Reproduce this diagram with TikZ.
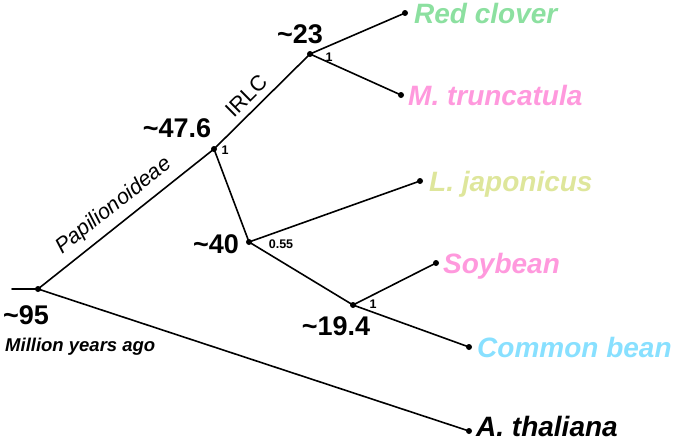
\documentclass[tikz,border=0pt]{standalone}
\usepackage{fontspec}
\setmainfont{Liberation Sans}
\definecolor{cgreen}{RGB}{140,224,160}
\definecolor{cpink}{RGB}{255,153,221}
\definecolor{cyell}{RGB}{222,230,155}
\definecolor{cblue}{RGB}{136,224,255}
\tikzset{
  br/.style={line width=1.6pt, line cap=round},
  dotnode/.style={circle, fill=black, inner sep=0pt, minimum size=6pt},
  leaflab/.style={anchor=base west, inner sep=0pt, font=\fontsize{28}{30}\selectfont\bfseries\itshape},
  agelab/.style={anchor=base, inner sep=0pt, font=\fontsize{27}{29}\selectfont\bfseries},
  supp/.style={inner sep=0pt, font=\fontsize{12.5}{14}\selectfont\bfseries},
  clade/.style={inner sep=0pt, font=\fontsize{21.5}{23}\selectfont}
}
\begin{document}
\begin{tikzpicture}[x=1pt,y=-1pt]
\useasboundingbox (0,0) rectangle (675,442);
% internal nodes
\node[dotnode] (root) at (38,289) {};
\node[dotnode] (n476) at (214,149) {};
\node[dotnode] (n23) at (310,54) {};
\node[dotnode] (n40) at (249,242) {};
\node[dotnode] (n194) at (353,305) {};
% leaves
\node[dotnode] (rc) at (405,13) {};
\node[dotnode] (mt) at (401,95) {};
\node[dotnode] (lj) at (420,181) {};
\node[dotnode] (sb) at (436,263) {};
\node[dotnode] (cb) at (469,347) {};
\node[dotnode] (at) at (469,431) {};
\coordinate (stub) at (12,289);
% branches
\draw[br] (stub) -- (root.center);
\draw[br] (root.center) -- (n476.center);
\draw[br] (root.center) -- (at.center);
\draw[br] (n476.center) -- (n23.center);
\draw[br] (n476.center) -- (n40.center);
\draw[br] (n23.center) -- (rc.center);
\draw[br] (n23.center) -- (mt.center);
\draw[br] (n40.center) -- (lj.center);
\draw[br] (n40.center) -- (n194.center);
\draw[br] (n194.center) -- (sb.center);
\draw[br] (n194.center) -- (cb.center);
% leaf labels
\node[leaflab, text=cgreen] (lrc) at (414,23) {Red clover};
\node[leaflab, text=cpink] (lmt) at (408,105) {M. truncatula};
\node[leaflab, text=cyell] (llj) at (429,191) {L. japonicus};
\node[leaflab, text=cpink] (lsb) at (443,273) {Soybean};
\node[leaflab, text=cblue] (lcb) at (477,357) {Common bean};
\node[leaflab, text=black] (lat) at (476,436) {A. thaliana};
% ages
\node[agelab] (a95) at (26,324) {\textasciitilde95};
\node[agelab] (a476) at (177,137) {\textasciitilde47.6};
\node[agelab] (a40) at (216,253) {\textasciitilde40};
\node[agelab] (a23) at (300,43) {\textasciitilde23};
\node[agelab] (a194) at (336,335) {\textasciitilde19.4};
\node[anchor=base west, inner sep=0pt, font=\fontsize{18.5}{20}\selectfont\bfseries\itshape] (mya) at (5,351) {Million years ago};
% support values
\node[supp] (s1) at (225,150) {1};
\node[supp] (s2) at (329,57) {1};
\node[supp] (s3) at (373,304) {1};
\node[supp] (s4) at (281,244) {0.55};
% clade labels
\node[clade, rotate=38.5, font=\fontsize{21.5}{23}\selectfont\itshape] (pap) at (114,206) {Papilionoideae};
\node[clade, rotate=44.7] (irlc) at (246,96) {IRLC};
\end{tikzpicture}
\end{document}
